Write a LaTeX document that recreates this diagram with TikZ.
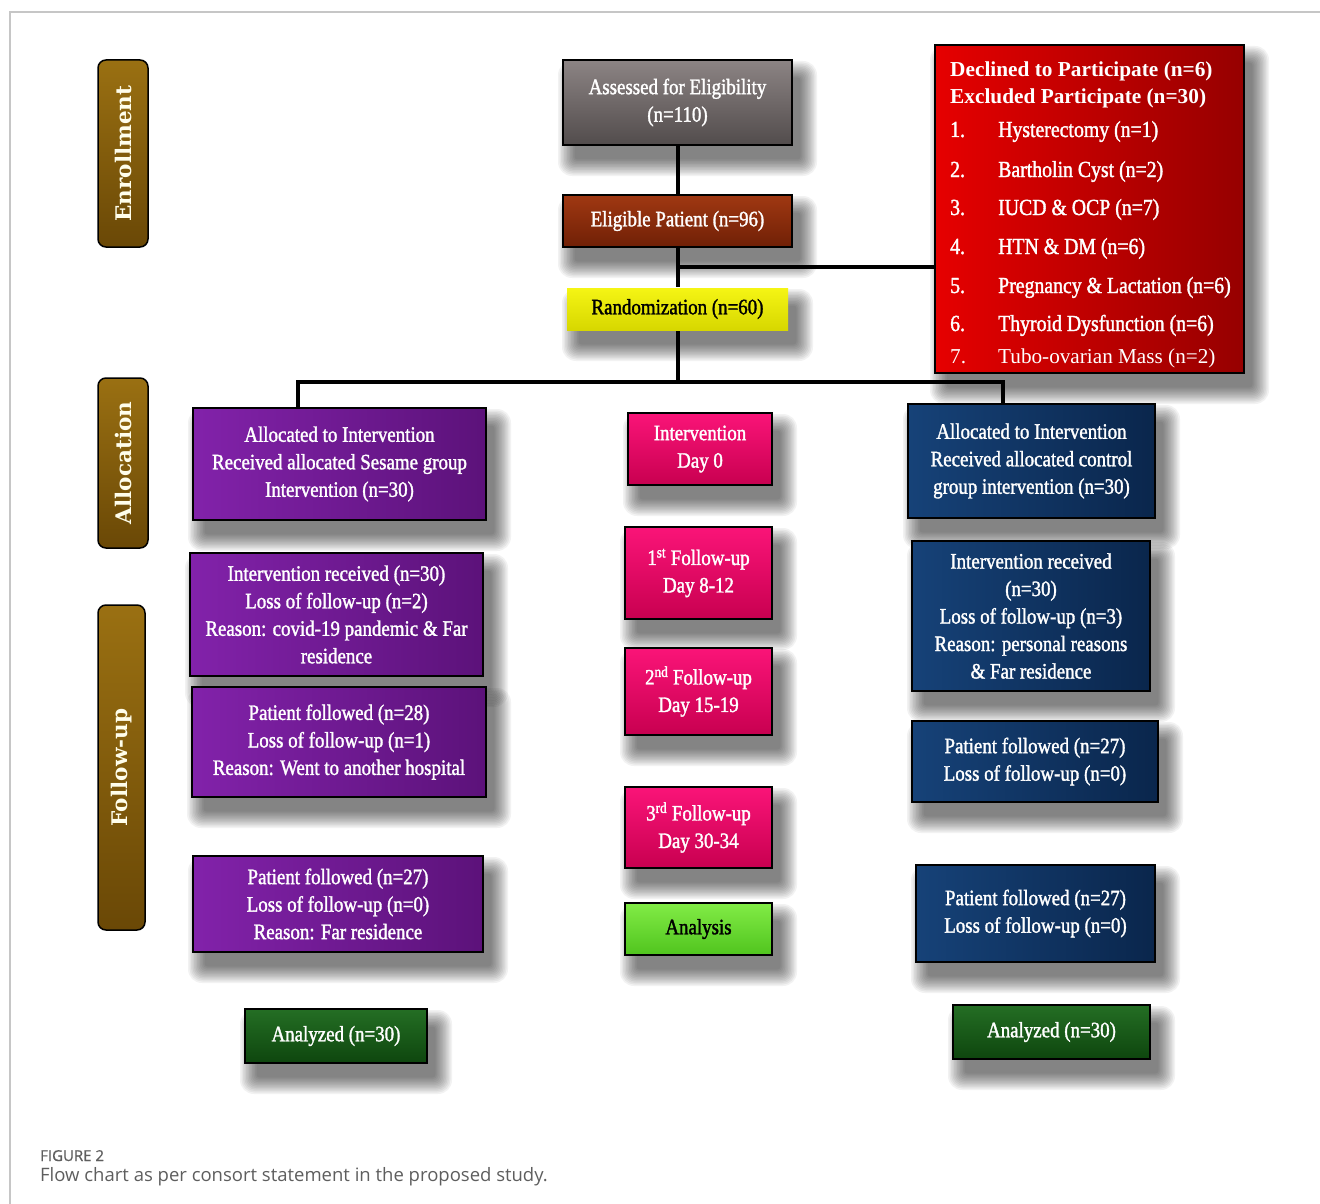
\documentclass[tikz,border=0pt]{standalone}
\usepackage{fontspec}
\setmainfont{Liberation Serif}
\newfontfamily\bxfont[FakeStretch=0.86,FakeBold=1.5]{Liberation Serif}
\newfontfamily\hdfont{Liberation Serif}
\newfontfamily\lblfont{DejaVu Serif}
\newfontfamily\capfont{Open Sans}
\newfontfamily\capbfont[FakeBold=0.8]{Open Sans}
\definecolor{capgray}{HTML}{5E5E5E}
\definecolor{lblA}{HTML}{9A7012}
\definecolor{lblB}{HTML}{6A4806}
\pgfdeclarelayer{bglayer}
\pgfdeclarelayer{shadowlayer}
\pgfsetlayers{bglayer,shadowlayer,main}
\tikzset{
  box/.style={draw=black, line width=2pt, align=center, text=white,
    font=\bxfont\fontsize{22}{27.5}\selectfont, inner sep=2pt},
  lbl/.style={draw=black, line width=1.5pt, rounded corners=8pt, rotate=90,
    top color=lblA, bottom color=lblB, text=white!92!yellow,
    font=\lblfont\bfseries\fontsize{21.5}{24}\selectfont},
  conn/.style={line width=4pt, black},
  redtxt/.style={anchor=base west, text=white, inner sep=0pt},
  purp/.style={left color={rgb,255:red,130;green,34;blue,170}, right color={rgb,255:red,92;green,18;blue,122}},
  pink/.style={top color={rgb,255:red,250;green,20;blue,120}, bottom color={rgb,255:red,200;green,0;blue,80}},
  navy/.style={left color={rgb,255:red,22;green,66;blue,120}, right color={rgb,255:red,10;green,38;blue,76}},
  dgreen/.style={top color={rgb,255:red,36;green,110;blue,36}, bottom color={rgb,255:red,14;green,70;blue,14}},
  shd/.style={fill=black, opacity=0.05, draw=none},
}
\begin{document}
\begin{tikzpicture}[x=1pt,y=1pt]
\useasboundingbox (0,0) rectangle (1320,-1204);
\begin{pgfonlayer}{bglayer}
\fill[white] (0,0) rectangle (1320,-1204);
\end{pgfonlayer}
\draw[gray!45, line width=1.5pt] (1320,-12) -- (10,-12) -- (10,-1204);

% side labels
\node[lbl, minimum width=187, minimum height=50] (enr) at (123,-153.5) {Enrollment};
\node[lbl, minimum width=170, minimum height=50] (alo) at (123,-463) {Allocation};
\node[lbl, minimum width=325, minimum height=47] (fol) at (121.5,-767.5) {Follow-up};

% top chain
\node[box, minimum width=229, minimum height=85, top color={rgb,255:red,140;green,132;blue,132}, bottom color={rgb,255:red,82;green,76;blue,76}] (ass) at (677.5,-102.5) {Assessed for Eligibility\\(n=110)};
\node[box, minimum width=229, minimum height=52, top color={rgb,255:red,160;green,56;blue,18}, bottom color={rgb,255:red,112;green,32;blue,6}] (eli) at (677.5,-221) {Eligible Patient (n=96)};
\node[box, minimum width=221, minimum height=42, text=black, draw=none, top color={rgb,255:red,245;green,245;blue,20}, bottom color={rgb,255:red,215;green,215;blue,0}] (ran) at (677.5,-309) {Randomization (n=60)};

% excluded box
\node[box, minimum width=309, minimum height=328, left color={rgb,255:red,230;green,0;blue,0}, right color={rgb,255:red,150;green,0;blue,0}] (exc) at (1089.5,-209) {};
\node[redtxt, font=\hdfont\bfseries\fontsize{21.3}{24}\selectfont] (e0) at (950,-77) {Declined to Participate (n=6)};
\node[redtxt, font=\hdfont\bfseries\fontsize{21.3}{24}\selectfont] (e00) at (950,-104) {Excluded Participate (n=30)};
\foreach \n/\y/\t in {1/137/Hysterectomy (n=1), 2/177/Bartholin Cyst (n=2), 3/215/IUCD \& OCP (n=7), 4/254/HTN \& DM (n=6), 5/293/Pregnancy \& Lactation (n=6), 6/331/Thyroid Dysfunction (n=6)}{
  \node[redtxt, font=\bxfont\fontsize{23}{24}\selectfont] (en\n) at (950,-\y) {\n.};
  \node[redtxt, font=\bxfont\fontsize{23}{24}\selectfont] (et\n) at (998,-\y) {\t};
}
\node[redtxt, font=\hdfont\fontsize{21.2}{24}\selectfont] (en7) at (950,-363) {7.};
\node[redtxt, font=\hdfont\fontsize{21.2}{24}\selectfont] (et7) at (998,-363) {Tubo-ovarian Mass (n=2)};

% left column
\node[box, purp, minimum width=293, minimum height=112] (la1) at (339.5,-464) {Allocated to Intervention\\Received allocated Sesame group\\Intervention (n=30)};
\node[box, purp, minimum width=293, minimum height=123] (la2) at (336.5,-614.5) {Intervention received (n=30)\\Loss of follow-up (n=2)\\Reason: covid-19 pandemic \& Far\\residence};
\node[box, purp, minimum width=294, minimum height=110] (la3) at (339,-742) {Patient followed (n=28)\\Loss of follow-up (n=1)\\Reason: Went to another hospital};
\node[box, purp, minimum width=290, minimum height=96] (la4) at (338,-904) {Patient followed (n=27)\\Loss of follow-up (n=0)\\Reason: Far residence};
\node[box, dgreen, minimum width=182, minimum height=54] (lan) at (336,-1036) {Analyzed (n=30)};

% middle column
\node[box, pink, minimum width=144, minimum height=72] (m1) at (700,-449) {Intervention\\Day 0};
\node[box, pink, minimum width=147, minimum height=92] (m2) at (698.5,-573) {1\textsuperscript{st} Follow-up\\Day 8-12};
\node[box, pink, minimum width=147, minimum height=87] (m3) at (698.5,-691.5) {2\textsuperscript{nd} Follow-up\\Day 15-19};
\node[box, pink, minimum width=147, minimum height=81] (m4) at (698.5,-827.5) {3\textsuperscript{rd} Follow-up\\Day 30-34};
\node[box, minimum width=147, minimum height=52, text=black, top color={rgb,255:red,130;green,236;blue,70}, bottom color={rgb,255:red,80;green,196;blue,30}] (m5) at (698.5,-929) {Analysis};

% right column
\node[box, navy, minimum width=247, minimum height=114] (r1) at (1031.5,-461) {Allocated to Intervention\\Received allocated control\\group intervention (n=30)};
\node[box, navy, minimum width=238, minimum height=150] (r2) at (1031,-616) {Intervention received\\(n=30)\\Loss of follow-up (n=3)\\Reason: personal reasons\\\& Far residence};
\node[box, navy, minimum width=246, minimum height=81] (r3) at (1035,-761.5) {Patient followed (n=27)\\Loss of follow-up (n=0)};
\node[box, navy, minimum width=239, minimum height=97] (r4) at (1035.5,-913.5) {Patient followed (n=27)\\Loss of follow-up (n=0)};
\node[box, dgreen, minimum width=197, minimum height=54] (rn) at (1051.5,-1032) {Analyzed (n=30)};

% soft drop shadows
\begin{pgfonlayer}{shadowlayer}
\foreach \nd in {ass,eli,ran,exc,la1,la2,la3,la4,lan,m1,m2,m3,m4,m5,r1,r2,r3,r4,rn}{
  \foreach \i in {0,...,11}{
    \fill[shd, rounded corners={(14-\i)*1pt}] ([shift={({-4+1.5*\i},{-30+1.5*\i})}]\nd.south west) rectangle ([shift={({24-1.5*\i},{-2-1.5*\i})}]\nd.north east);
  }
}
\end{pgfonlayer}

% connectors
\coordinate (jx) at (677.5,-267);
\coordinate (jr) at (677.5,-382);
\coordinate (jl) at (298,-382);
\coordinate (jrr) at (1003,-382);
\draw[conn] (ass.south) -- (eli.north);
\draw[conn] (eli.south) -- (ran.north);
\draw[conn] (jx) -- (jx -| exc.west);
\draw[conn] (ran.south) -- (jr);
\draw[conn, line cap=rect] (jl) -- (jrr);
\draw[conn] (jl) -- (jl |- la1.north);
\draw[conn] (jrr) -- (jrr |- r1.north);

% caption
\node[anchor=base west, inner sep=0pt, text=capgray, font=\capbfont\fontsize{15}{16}\selectfont] (fig) at (40,-1161) {FIGURE 2};
\node[anchor=base west, inner sep=0pt, text=capgray, font=\capfont\fontsize{18.5}{20}\selectfont] (cap) at (40,-1181) {Flow chart as per consort statement in the proposed study.};
\end{tikzpicture}
\end{document}
